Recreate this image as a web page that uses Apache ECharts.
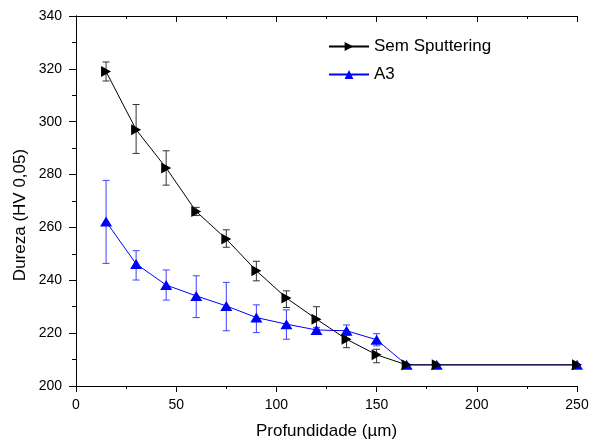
<!DOCTYPE html>
<html><head><meta charset="utf-8">
<script src="https://cdn.jsdelivr.net/npm/echarts@6/dist/echarts.min.js"></script>
<style>html,body{margin:0;padding:0;background:#fff}#c{width:590px;height:442px}</style>
</head><body><div id="c"></div>
<script>
var depth = [15, 30, 45, 60, 75, 90, 105, 120, 135, 150, 165, 180, 250];
var semValues = [319, 297, 282.5, 266, 255.6, 243.6, 233.3, 225.3, 217.7, 211.8, 208, 208, 208];
var semLow    = [315.4, 288, 276, 264.5, 252.5, 239.8, 229.7, 221.5, 214.5, 208.8, null, null, null];
var semHigh   = [322.6, 306.5, 289, 267.6, 259.1, 247.2, 236, 230, 219.7, 213.9, null, null, null];
var a3Values  = [262.2, 246.2, 238.2, 234.1, 230.3, 225.9, 223.4, 221.2, 220.9, 217.5, 208, 208, 208];
var a3Low     = [246.4, 240.1, 232.5, 225.9, 220.9, 220.2, 217.7, 220.2, 219.3, 215.2, null, null, null];
var a3High    = [277.8, 251.2, 243.9, 241.7, 239.2, 230.7, 228.8, 222.2, 223.1, 219.8, null, null, null];
var seriesNames = ['Sem Sputtering', 'A3'];
var xTicks = [0, 50, 100, 150, 200, 250];
var yTicks = [200, 220, 240, 260, 280, 300, 320, 340];
var xTitle = 'Profundidade (µm)';
var yTitle = 'Dureza (HV 0,05)';

var FONT = '"Liberation Sans", Arial, sans-serif';
function pairs(xs, ys){ return xs.map(function(x,i){return [x, ys[i]];}); }
function errData(xs, lo, hi){ var out=[]; xs.forEach(function(x,i){ if(lo[i]!=null) out.push([x, lo[i], hi[i]]); }); return out; }
function errRender(color){
  return function(params, api){
    var x = api.value(0), lo = api.value(1), hi = api.value(2);
    var p1 = api.coord([x, lo]), p2 = api.coord([x, hi]);
    var w = 3.5, st = {stroke: color, lineWidth: 1};
    return {type:'group', children:[
      {type:'line', shape:{x1:p1[0],y1:p1[1],x2:p2[0],y2:p2[1]}, style:st},
      {type:'line', shape:{x1:p1[0]-w,y1:p1[1],x2:p1[0]+w,y2:p1[1]}, style:st},
      {type:'line', shape:{x1:p2[0]-w,y1:p2[1],x2:p2[0]+w,y2:p2[1]}, style:st}
    ]};
  };
}
var axisLine = {show:true, lineStyle:{color:'#000', width:1}};
var chart = echarts.init(document.getElementById('c'), null, {renderer:'canvas'});
chart.setOption({
  animation:false,
  backgroundColor:'#fff',
  grid:{left:76, right:13, top:16, bottom:56, containLabel:false, outerBoundsMode:'none'},
  legend:{
    data:seriesNames, orient:'vertical', left:323, top:33, itemGap:11,
    itemWidth:40, itemHeight:11, symbolRotate:'inherit',
    textStyle:{fontFamily:FONT, fontSize:17, color:'#000'}
  },
  graphic:[
    {type:'text', x:20, y:215, rotation:Math.PI/2,
     style:{text:yTitle, font:'17px "Liberation Sans", Arial, sans-serif', fill:'#000', align:'center', verticalAlign:'middle'}}
  ],
  xAxis:[
    {type:'value', min:0, max:250, interval:50, position:'bottom',
     name:xTitle, nameLocation:'middle', nameGap:37,
     nameTextStyle:{fontFamily:FONT, fontSize:17, color:'#000'},
     axisLine:axisLine, axisTick:{show:true, length:6, lineStyle:{color:'#000'}},
     minorTick:{show:true, splitNumber:2, length:3, lineStyle:{color:'#000'}},
     axisLabel:{fontFamily:FONT, fontSize:14, color:'#000', margin:12, formatter:function(v){return xTicks.indexOf(v)>=0?String(v):'';}},
     splitLine:{show:false}},
    {type:'value', min:0, max:250, interval:50, position:'top',
     axisLine:axisLine, axisTick:{show:true, inside:true, length:6, lineStyle:{color:'#000'}},
     minorTick:{show:true, splitNumber:2, length:3, lineStyle:{color:'#000'}},
     axisLabel:{show:false}, splitLine:{show:false}}
  ],
  yAxis:[
    {type:'value', min:200, max:340, interval:20, position:'left',
     axisLine:axisLine, axisTick:{show:true, length:7, lineStyle:{color:'#000'}},
     minorTick:{show:true, splitNumber:2, length:4, lineStyle:{color:'#000'}},
     axisLabel:{fontFamily:FONT, fontSize:14, color:'#000', margin:14, formatter:function(v){return yTicks.indexOf(v)>=0?String(v):'';}},
     splitLine:{show:false}},
    {type:'value', min:200, max:340, interval:20, position:'right',
     axisLine:axisLine, axisTick:{show:true, inside:true, length:7, lineStyle:{color:'#000'}},
     minorTick:{show:true, splitNumber:2, length:4, lineStyle:{color:'#000'}},
     axisLabel:{show:false}, splitLine:{show:false}}
  ],
  series:[
    {type:'custom', name:'errSem', xAxisIndex:0, yAxisIndex:0, renderItem:errRender('#333'),
     data:errData(depth, semLow, semHigh), encode:{x:0, y:[1,2]}, z:1, silent:true},
    {type:'custom', name:'errA3', xAxisIndex:0, yAxisIndex:0, renderItem:errRender('#4040ff'),
     data:errData(depth, a3Low, a3High), encode:{x:0, y:[1,2]}, z:1, silent:true},
    {type:'line', name:seriesNames[0], data:pairs(depth, semValues),
     symbol:'triangle', symbolSize:[11,10], symbolRotate:-90,
     lineStyle:{color:'#000', width:1}, itemStyle:{color:'#000'}, z:3},
    {type:'line', name:seriesNames[1], data:pairs(depth, a3Values),
     symbol:'triangle', symbolSize:[12,10],
     lineStyle:{color:'#0000ff', width:1}, itemStyle:{color:'#0000ff'}, z:2}
  ]
});
</script></body></html>
